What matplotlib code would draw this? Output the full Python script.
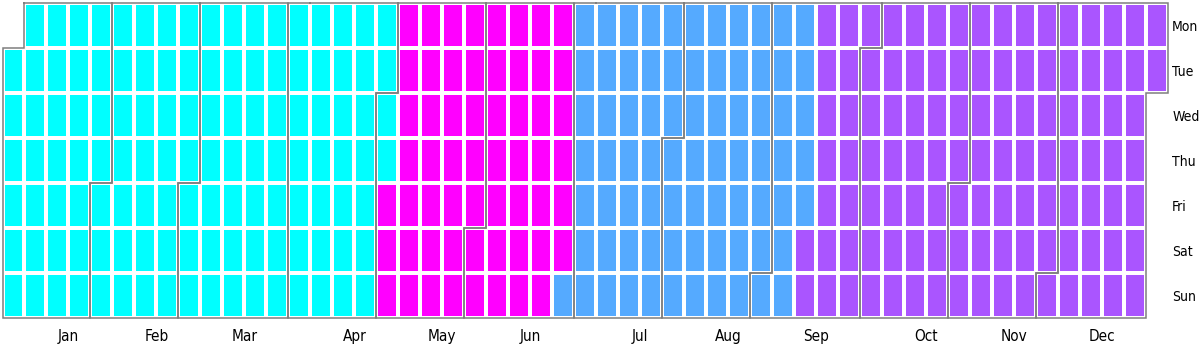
import numpy as np
import pandas as pd
import matplotlib
matplotlib.use("Agg")
import matplotlib.pyplot as plt
from matplotlib import font_manager

# ---- data ----
year = 2019
period_starts = ["2019-01-01", "2019-05-03", "2019-06-30", "2019-09-14"]
period_values = [0, 3, 1, 2]          # level mapped through the 'cool' colormap
month_labels = ["Jan", "Feb", "Mar", "Apr", "May", "Jun",
                "Jul", "Aug", "Sep", "Oct", "Nov", "Dec"]
day_labels = ["Mon", "Tue", "Wed", "Thu", "Fri", "Sat", "Sun"]

# ---- font ----
names = {f.name for f in font_manager.fontManager.ttflist}
if "Liberation Sans Narrow" in names:
    font_kw = dict(family="Liberation Sans Narrow")
else:
    font_kw = dict(family="DejaVu Sans", stretch="condensed")

# ---- build daily series ----
days = pd.date_range(f"{year}-01-01", f"{year}-12-31", freq="D")
levels = pd.Series(period_values, index=pd.to_datetime(period_starts)).reindex(days, method="ffill")

offset = days[0].weekday()  # Monday = 0
doy = np.arange(len(days))
cols = (doy + offset) // 7
rows = np.array([d.weekday() for d in days])
ncols = cols.max() + 1

grid = np.full((7, ncols), np.nan)
grid[rows, cols] = levels.values
grid = np.ma.masked_invalid(grid)

# ---- figure ----
fig = plt.figure(figsize=(12, 3.56), dpi=100)
ax = fig.add_axes([2.5 / 1200, 38 / 356, 1165.5 / 1200, 315 / 356])
ax.pcolormesh(np.arange(ncols + 1), np.arange(8), grid, cmap="cool",
              vmin=0, vmax=3, edgecolors="white", linewidth=1.7)
ax.set_xlim(0, ncols)
ax.set_ylim(7, 0)

# month outlines
for m in range(1, 13):
    mask = days.month == m
    c1, r1 = cols[mask][0], rows[mask][0]
    c2, r2 = cols[mask][-1], rows[mask][-1]
    xs = [c1 + 1, c2 + 1, c2 + 1, c2, c2, c1, c1, c1 + 1, c1 + 1]
    ys = [0, 0, r2 + 1, r2 + 1, 7, 7, r1, r1, 0]
    ax.plot(xs, ys, color="#7f7f7f", lw=1.1, clip_on=False, zorder=3,
            solid_joinstyle="miter")

# month ticks at the right edge of the column containing the 15th
mid_cols = [cols[(days.month == m) & (days.day == 15)][0] + 1 for m in range(1, 13)]
ax.set_xticks(mid_cols)
ax.set_xticklabels(month_labels, fontsize=11, **font_kw)
ax.set_yticks(np.arange(7) + 0.5)
ax.set_yticklabels(day_labels, fontsize=10, **font_kw)
ax.yaxis.tick_right()
ax.tick_params(axis="x", length=0, pad=8)
ax.tick_params(axis="y", length=0, pad=3)
for s in ax.spines.values():
    s.set_visible(False)

fig.savefig("out.png", dpi=100, facecolor="white")
